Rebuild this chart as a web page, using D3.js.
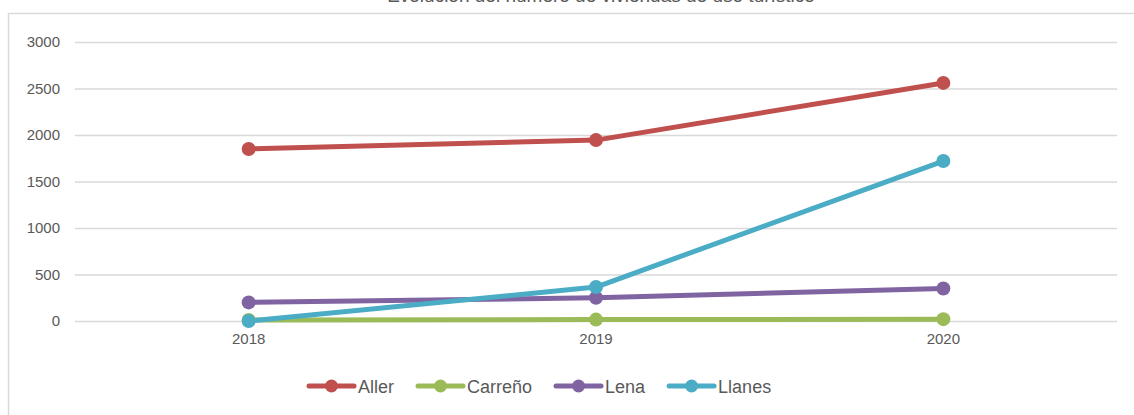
<!DOCTYPE html>
<html><head><meta charset="utf-8">
<script src="https://cdn.jsdelivr.net/npm/d3@7"></script>
<style>
html,body{margin:0;padding:0;background:#fff;}
svg{display:block;font-family:"Liberation Sans",Arial,sans-serif;}
</style></head>
<body><svg id="c" width="1134" height="415"></svg>
<script>
const years = ["2018","2019","2020"];
const seriesNames = ["Aller","Carreño","Lena","Llanes"];
const aller   = [1850, 1945, 2560];
const carreno = [10, 15, 20];
const lena    = [200, 250, 350];
const llanes  = [0, 365, 1720];
const yTicks  = [0, 500, 1000, 1500, 2000, 2500, 3000];
const colors  = ["#C0504D","#9BBB59","#8064A2","#4BACC6"];
const titleText = "Evolución del número de viviendas de uso turístico";

const series = [aller, carreno, lena, llanes].map((v,i)=>({name:seriesNames[i], values:v, color:colors[i]}));

const svg = d3.select("#c");
// outer border
svg.append("rect").attr("x",8.5).attr("y",13.5).attr("width",1140).attr("height",420)
  .attr("fill","none").attr("stroke","#d9d9d9").attr("stroke-width",1.5);

// title (clipped at top, as in the reference)
svg.append("text").attr("x",601).attr("y",1.5).attr("text-anchor","middle")
  .attr("font-size",19).attr("fill","#595959").text(titleText);

const x = d3.scaleBand().domain(years).range([75,1117]).padding(0);
const y = d3.scaleLinear().domain([0,3000]).range([321,42]);
const cx = d => x(d) + x.bandwidth()/2;

// gridlines + y labels
const yAxis = d3.axisLeft(y).tickValues(yTicks).tickFormat(d3.format("d"))
  .tickSize(-(1117-75)).tickPadding(15);
const ga = svg.append("g").attr("transform","translate(75,0)").call(yAxis);
ga.select(".domain").remove();
ga.selectAll(".tick line").attr("stroke","#d9d9d9").attr("stroke-width",1.5);
ga.selectAll(".tick text").attr("fill","#595959").attr("font-size",15)
  .attr("font-family","'Liberation Sans',Arial,sans-serif");

// x labels
const xAxis = d3.axisBottom(x).tickSize(0).tickPadding(12);
const gx = svg.append("g").attr("transform","translate(0,321)").call(xAxis);
gx.select(".domain").remove();
gx.selectAll(".tick text").attr("fill","#595959").attr("font-size",15)
  .attr("font-family","'Liberation Sans',Arial,sans-serif");

const line = d3.line().x((d,i)=>cx(years[i])).y(d=>y(d));
series.forEach(s=>{
  svg.append("path").datum(s.values).attr("d",line).attr("fill","none")
    .attr("stroke",s.color).attr("stroke-width",5).attr("stroke-linejoin","round").attr("stroke-linecap","round");
});
series.forEach(s=>{
  svg.selectAll(null).data(s.values).enter().append("circle")
    .attr("cx",(d,i)=>cx(years[i])).attr("cy",d=>y(d)).attr("r",7).attr("fill",s.color);
});

// legend
let lx = 307;
const ly = 386;
series.forEach(s=>{
  const g = svg.append("g");
  g.append("line").attr("x1",lx+2).attr("x2",lx+47).attr("y1",ly).attr("y2",ly)
    .attr("stroke",s.color).attr("stroke-width",5).attr("stroke-linecap","round");
  g.append("circle").attr("cx",lx+24.5).attr("cy",ly).attr("r",6.5).attr("fill",s.color);
  const t = g.append("text").attr("x",lx+51).attr("y",ly+6.5).attr("font-size",18)
    .attr("fill","#595959").text(s.name);
  lx = lx + 51 + t.node().getComputedTextLength() + 22;
});
</script></body></html>
